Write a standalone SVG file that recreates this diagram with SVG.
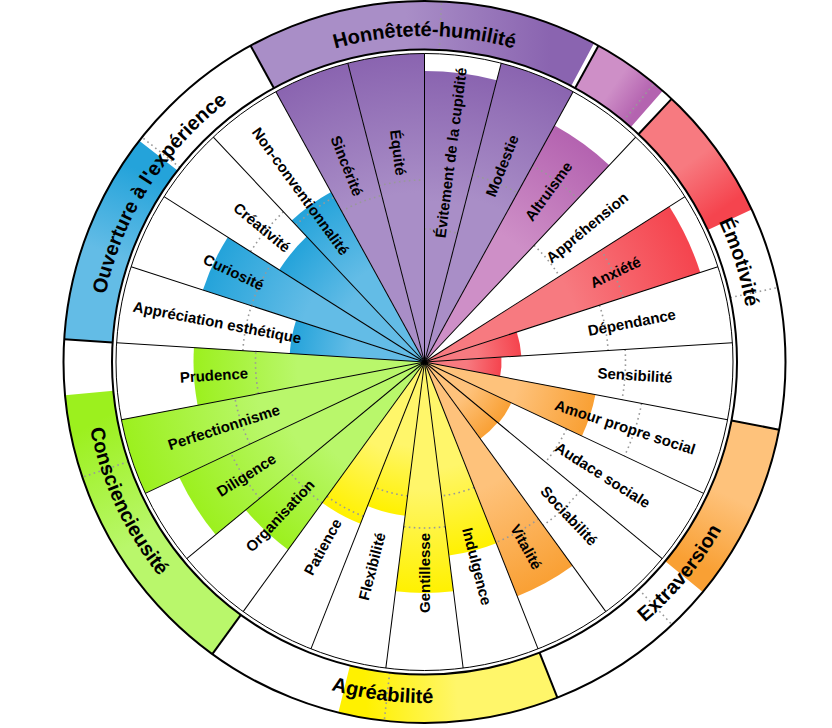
<svg xmlns="http://www.w3.org/2000/svg" xmlns:xlink="http://www.w3.org/1999/xlink" width="832" height="728" viewBox="0 0 832 728">
<style>
.fl{font-family:"Liberation Sans",Arial,Helvetica,sans-serif;font-size:15px;font-weight:bold;fill:#000;text-anchor:middle}
.bt{font-family:"Liberation Sans",Arial,Helvetica,sans-serif;font-size:20px;font-weight:bold;fill:#000;text-anchor:middle}
.dot{fill:none;stroke:#999;stroke-width:1.6;stroke-dasharray:1.6 3.4}
.thin{fill:none;stroke:#000;stroke-width:1}
.thick{fill:none;stroke:#000;stroke-width:2}
</style>
<defs>
<radialGradient id="rp" gradientUnits="userSpaceOnUse" cx="0" cy="0" r="308.5"><stop offset=".55" stop-color="#A98EC7"/><stop offset="1" stop-color="#8A64B0"/></radialGradient>
<radialGradient id="rk" gradientUnits="userSpaceOnUse" cx="0" cy="0" r="308.5"><stop offset=".55" stop-color="#CE8FC7"/><stop offset="1" stop-color="#B463B0"/></radialGradient>
<radialGradient id="rr" gradientUnits="userSpaceOnUse" cx="0" cy="0" r="308.5"><stop offset=".55" stop-color="#F77A80"/><stop offset="1" stop-color="#F5444E"/></radialGradient>
<radialGradient id="ro" gradientUnits="userSpaceOnUse" cx="0" cy="0" r="308.5"><stop offset=".55" stop-color="#FEC27B"/><stop offset="1" stop-color="#F9A034"/></radialGradient>
<radialGradient id="ry" gradientUnits="userSpaceOnUse" cx="0" cy="0" r="308.5"><stop offset=".55" stop-color="#FFF66A"/><stop offset="1" stop-color="#FFF100"/></radialGradient>
<radialGradient id="rg" gradientUnits="userSpaceOnUse" cx="0" cy="0" r="308.5"><stop offset=".55" stop-color="#B9F76B"/><stop offset="1" stop-color="#9CF01E"/></radialGradient>
<radialGradient id="rb" gradientUnits="userSpaceOnUse" cx="0" cy="0" r="308.5"><stop offset=".55" stop-color="#63BCE6"/><stop offset="1" stop-color="#24A3DA"/></radialGradient>
<radialGradient id="g0" xlink:href="#rp" r="291"/>
<radialGradient id="g2" xlink:href="#rk" r="270"/>
<radialGradient id="g4" xlink:href="#rr" r="290"/>
<radialGradient id="g5" xlink:href="#rr" r="97"/>
<radialGradient id="g6" xlink:href="#rr" r="77"/>
<radialGradient id="g7" xlink:href="#ro" r="174"/>
<radialGradient id="g8" xlink:href="#ro" r="96"/>
<radialGradient id="g9" xlink:href="#ro" r="95"/>
<radialGradient id="g10" xlink:href="#ro" r="252"/>
<radialGradient id="g11" xlink:href="#ry" r="195"/>
<radialGradient id="g12" xlink:href="#ry" r="231"/>
<radialGradient id="g13" xlink:href="#ry" r="155"/>
<radialGradient id="g14" xlink:href="#ry" r="174"/>
<radialGradient id="g15" xlink:href="#rg" r="232"/>
<radialGradient id="g16" xlink:href="#rg" r="271"/>
<radialGradient id="g18" xlink:href="#rg" r="231"/>
<radialGradient id="g19" xlink:href="#rb" r="135"/>
<radialGradient id="g20" xlink:href="#rb" r="233"/>
<radialGradient id="g21" xlink:href="#rb" r="172"/>
<radialGradient id="g22" xlink:href="#rb" r="194"/>
<linearGradient id="bH" gradientUnits="userSpaceOnUse" x1="0" y1="-337" x2="281.99" y2="-184.53"><stop offset="0" stop-color="#A98EC7"/><stop offset=".45" stop-color="#A98EC7"/><stop offset=".9" stop-color="#8A64B0"/></linearGradient>
<linearGradient id="bA" gradientUnits="userSpaceOnUse" x1="0" y1="-337" x2="72.94" y2="-329.01"><stop offset="0" stop-color="#CE8FC7"/><stop offset=".45" stop-color="#CE8FC7"/><stop offset=".9" stop-color="#B463B0"/></linearGradient>
<linearGradient id="bE" gradientUnits="userSpaceOnUse" x1="0" y1="-337" x2="125.16" y2="-312.9"><stop offset="0" stop-color="#F77A80"/><stop offset=".45" stop-color="#F77A80"/><stop offset=".9" stop-color="#F5444E"/></linearGradient>
<linearGradient id="bX" gradientUnits="userSpaceOnUse" x1="0" y1="-337" x2="162.35" y2="-295.32"><stop offset="0" stop-color="#FEC27B"/><stop offset=".45" stop-color="#FEC27B"/><stop offset=".9" stop-color="#F9A034"/></linearGradient>
<linearGradient id="bY" gradientUnits="userSpaceOnUse" x1="0" y1="-337" x2="195.22" y2="-274.71"><stop offset="0" stop-color="#FFF66A"/><stop offset=".45" stop-color="#FFF66A"/><stop offset=".9" stop-color="#FFF100"/></linearGradient>
<linearGradient id="bG" gradientUnits="userSpaceOnUse" x1="0" y1="-337" x2="253.18" y2="-222.42"><stop offset="0" stop-color="#B9F76B"/><stop offset=".45" stop-color="#B9F76B"/><stop offset=".9" stop-color="#9CF01E"/></linearGradient>
<linearGradient id="bB" gradientUnits="userSpaceOnUse" x1="0" y1="-337" x2="189.42" y2="-278.73"><stop offset="0" stop-color="#63BCE6"/><stop offset=".45" stop-color="#63BCE6"/><stop offset=".9" stop-color="#24A3DA"/></linearGradient>
<line id="fline" x1="0" y1="0" x2="0" y2="-308.5"/>
<line id="bline" x1="0" y1="-312.5" x2="0" y2="-361"/>
<path id="pH" d="M-282.32-163A326 326 0 0 1 282.32-163"/>
<path id="pO" d="M-288.9 151.04A326 326 0 0 1 13.65-325.71"/>
<path id="pE" d="M70-318.4A326 326 0 0 1 240.75 219.83"/>
<path id="pX" d="M-56.87 336.23A341 341 0 0 0 319.62-118.87"/>
<path id="pA" d="M-314.35 132.14A341 341 0 0 0 271.62 206.17"/>
<path id="pC" d="M-279.67-195.1A341 341 0 0 0-29.13 339.75"/>
</defs>
<rect width="832" height="728" fill="#fff"/>
<g transform="translate(424.5 362)">
<g id="factors">
<g id="honnetete-humilite"><path transform="rotate(-28.8)" d="M0-361A361 361 0 0 1 302.07-197.67L261.49-171.12A312.5 312.5 0 0 0 0-312.5Z" fill="url(#bH)"/><use xlink:href="#bline" class="dot" transform="rotate(2.7)"/><text class="bt"><textPath xlink:href="#pH" startOffset="50%">Honnêteté-humilité</textPath></text></g>
<g id="altruisme-band"><path transform="rotate(28.8)" d="M0-361A361 361 0 0 1 78.13-352.44L67.64-305.09A312.5 312.5 0 0 0 0-312.5Z" fill="url(#bA)"/><use xlink:href="#bline" class="dot" transform="rotate(39.5)"/></g>
<g id="emotivite"><path transform="rotate(43.2)" d="M0-361A361 361 0 0 1 134.07-335.18L116.06-290.15A312.5 312.5 0 0 0 0-312.5Z" fill="url(#bE)"/><use xlink:href="#bline" class="dot" transform="rotate(78.1)"/><text class="bt"><textPath xlink:href="#pE" startOffset="50%">Émotivité</textPath></text></g>
<g id="extraversion"><path transform="rotate(100.8)" d="M0-361A361 361 0 0 1 173.91-316.35L150.55-273.85A312.5 312.5 0 0 0 0-312.5Z" fill="url(#bX)"/><use xlink:href="#bline" class="dot" transform="rotate(136.7)"/><text class="bt"><textPath xlink:href="#pX" startOffset="50%">Extraversion</textPath></text></g>
<g id="agreabilite"><path transform="rotate(158.4)" d="M0-361A361 361 0 0 1 209.13-294.27L181.03-254.73A312.5 312.5 0 0 0 0-312.5Z" fill="url(#bY)"/><use xlink:href="#bline" class="dot" transform="rotate(186.4)"/><text class="bt"><textPath xlink:href="#pA" startOffset="50%">Agréabilité</textPath></text></g>
<g id="conscienciosite"><path transform="rotate(216)" d="M0-361A361 361 0 0 1 271.21-238.26L234.77-206.25A312.5 312.5 0 0 0 0-312.5Z" fill="url(#bG)"/><use xlink:href="#bline" class="dot" transform="rotate(251.4)"/><text class="bt"><textPath xlink:href="#pC" startOffset="50%">Consciencieusité</textPath></text></g>
<g id="ouverture"><path transform="rotate(273.6)" d="M0-361A361 361 0 0 1 202.91-298.58L175.65-258.47A312.5 312.5 0 0 0 0-312.5Z" fill="url(#bB)"/><use xlink:href="#bline" class="dot" transform="rotate(308.5)"/><text class="bt"><textPath xlink:href="#pO" startOffset="50%">Ouverture à l'expérience</textPath></text></g>
</g>
<g id="facets">
<g id="f-evitement" transform="rotate(0)"><path d="M0 0L0-291A291 291 0 0 1 72.37-281.86Z" fill="url(#g0)"/><path class="dot" d="M0-133A133 133 0 0 1 33.08-128.82"/><text class="fl" transform="rotate(7.2) translate(0 -211) rotate(-90)" dy=".35em">Évitement de la cupidité</text></g>
<g id="f-modestie" transform="rotate(14.4)"><path d="M0 0L0-308.5A308.5 308.5 0 0 1 76.72-298.81Z" fill="url(#rp)"/><path class="dot" d="M0-193A193 193 0 0 1 48-186.94"/><text class="fl" transform="rotate(7.2) translate(0 -211) rotate(-90)" dy=".35em">Modestie</text></g>
<g id="f-altruisme" transform="rotate(28.8)"><path d="M0 0L0-270A270 270 0 0 1 67.15-261.52Z" fill="url(#g2)"/><path class="dot" d="M0-224A224 224 0 0 1 55.71-216.96"/><text class="fl" transform="rotate(7.2) translate(0 -211) rotate(-90)" dy=".35em">Altruisme</text></g>
<g id="f-apprehension" transform="rotate(43.2)"><path class="dot" d="M0-160A160 160 0 0 1 39.79-154.97"/><text class="fl" transform="rotate(7.2) translate(0 -211) rotate(-90)" dy=".35em">Appréhension</text></g>
<g id="f-anxiete" transform="rotate(57.6)"><path d="M0 0L0-290A290 290 0 0 1 72.12-280.89Z" fill="url(#g4)"/><path class="dot" d="M0-209A209 209 0 0 1 51.98-202.43"/><text class="fl" transform="rotate(7.2) translate(0 -211) rotate(-90)" dy=".35em">Anxiété</text></g>
<g id="f-dependance" transform="rotate(72)"><path d="M0 0L0-97A97 97 0 0 1 24.12-93.95Z" fill="url(#g5)"/><path class="dot" d="M0-184A184 184 0 0 1 45.76-178.22"/><text class="fl" transform="rotate(7.2) translate(0 -211) rotate(-90)" dy=".35em">Dépendance</text></g>
<g id="f-sensibilite" transform="rotate(86.4)"><path d="M0 0L0-77A77 77 0 0 1 19.15-74.58Z" fill="url(#g6)"/><path class="dot" d="M0-201A201 201 0 0 1 49.99-194.68"/><text class="fl" transform="rotate(7.2) translate(0 -211) rotate(-90)" dy=".35em">Sensibilité</text></g>
<g id="f-amour-propre" transform="rotate(100.8)"><path d="M0 0L0-174A174 174 0 0 1 43.27-168.53Z" fill="url(#g7)"/><path class="dot" d="M0-221A221 221 0 0 1 54.96-214.06"/><text class="fl" transform="rotate(7.2) translate(0 -211) rotate(-90)" dy=".35em">Amour propre social</text></g>
<g id="f-audace" transform="rotate(115.2)"><path d="M0 0L0-96A96 96 0 0 1 23.87-92.98Z" fill="url(#g8)"/><path class="dot" d="M0-157A157 157 0 0 1 39.04-152.07"/><text class="fl" transform="rotate(7.2) translate(0 -211) rotate(-90)" dy=".35em">Audace sociale</text></g>
<g id="f-sociabilite" transform="rotate(129.6)"><path d="M0 0L0-95A95 95 0 0 1 23.63-92.02Z" fill="url(#g9)"/><path class="dot" d="M0-202A202 202 0 0 1 50.24-195.65"/><text class="fl" transform="rotate(7.2) translate(0 -211) rotate(-90)" dy=".35em">Sociabilité</text></g>
<g id="f-vitalite" transform="rotate(144)"><path d="M0 0L0-252A252 252 0 0 1 62.67-244.08Z" fill="url(#g10)"/><path class="dot" d="M0-194A194 194 0 0 1 48.25-187.9"/><text class="fl" transform="rotate(7.2) translate(0 -211) rotate(-90)" dy=".35em">Vitalité</text></g>
<g id="f-indulgence" transform="rotate(158.4)"><path d="M0 0L0-195A195 195 0 0 1 48.49-188.87Z" fill="url(#g11)"/><path class="dot" d="M0-135A135 135 0 0 1 33.57-130.76"/><text class="fl" transform="rotate(7.2) translate(0 -211) rotate(-90)" dy=".35em">Indulgence</text></g>
<g id="f-gentillesse" transform="rotate(172.8)"><path d="M0 0L0-231A231 231 0 0 1 57.45-223.74Z" fill="url(#g12)"/><path class="dot" d="M0-166A166 166 0 0 1 41.28-160.78"/><text class="fl" transform="rotate(7.2) translate(0 -211) rotate(90)" dy=".35em">Gentillesse</text></g>
<g id="f-flexibilite" transform="rotate(187.2)"><path d="M0 0L0-155A155 155 0 0 1 38.55-150.13Z" fill="url(#g13)"/><path class="dot" d="M0-135A135 135 0 0 1 33.57-130.76"/><text class="fl" transform="rotate(7.2) translate(0 -211) rotate(90)" dy=".35em">Flexibilité</text></g>
<g id="f-patience" transform="rotate(201.6)"><path d="M0 0L0-174A174 174 0 0 1 43.27-168.53Z" fill="url(#g14)"/><path class="dot" d="M0-166A166 166 0 0 1 41.28-160.78"/><text class="fl" transform="rotate(7.2) translate(0 -211) rotate(90)" dy=".35em">Patience</text></g>
<g id="f-organisation" transform="rotate(216)"><path d="M0 0L0-232A232 232 0 0 1 57.7-224.71Z" fill="url(#g15)"/><path class="dot" d="M0-174A174 174 0 0 1 43.27-168.53"/><text class="fl" transform="rotate(7.2) translate(0 -211) rotate(90)" dy=".35em">Organisation</text></g>
<g id="f-diligence" transform="rotate(230.4)"><path d="M0 0L0-271A271 271 0 0 1 67.39-262.49Z" fill="url(#g16)"/><path class="dot" d="M0-214A214 214 0 0 1 53.22-207.28"/><text class="fl" transform="rotate(7.2) translate(0 -211) rotate(90)" dy=".35em">Diligence</text></g>
<g id="f-perfectionnisme" transform="rotate(244.8)"><path d="M0 0L0-308.5A308.5 308.5 0 0 1 76.72-298.81Z" fill="url(#rg)"/><path class="dot" d="M0-193A193 193 0 0 1 48-186.94"/><text class="fl" transform="rotate(7.2) translate(0 -211) rotate(90)" dy=".35em">Perfectionnisme</text></g>
<g id="f-prudence" transform="rotate(259.2)"><path d="M0 0L0-231A231 231 0 0 1 57.45-223.74Z" fill="url(#g18)"/><path class="dot" d="M0-169A169 169 0 0 1 42.03-163.69"/><text class="fl" transform="rotate(7.2) translate(0 -211) rotate(90)" dy=".35em">Prudence</text></g>
<g id="f-appreciation" transform="rotate(273.6)"><path d="M0 0L0-135A135 135 0 0 1 33.57-130.76Z" fill="url(#g19)"/><path class="dot" d="M0-182A182 182 0 0 1 45.26-176.28"/><text class="fl" transform="rotate(7.2) translate(0 -211) rotate(90)" dy=".35em">Appréciation esthétique</text></g>
<g id="f-curiosite" transform="rotate(288)"><path d="M0 0L0-233A233 233 0 0 1 57.94-225.68Z" fill="url(#g20)"/><path class="dot" d="M0-182A182 182 0 0 1 45.26-176.28"/><text class="fl" transform="rotate(7.2) translate(0 -211) rotate(90)" dy=".35em">Curiosité</text></g>
<g id="f-creativite" transform="rotate(302.4)"><path d="M0 0L0-172A172 172 0 0 1 42.77-166.6Z" fill="url(#g21)"/><path class="dot" d="M0-206A206 206 0 0 1 51.23-199.53"/><text class="fl" transform="rotate(7.2) translate(0 -211) rotate(90)" dy=".35em">Créativité</text></g>
<g id="f-non-conventionnalite" transform="rotate(316.8)"><path d="M0 0L0-194A194 194 0 0 1 48.25-187.9Z" fill="url(#g22)"/><path class="dot" d="M0-188A188 188 0 0 1 46.75-182.09"/><text class="fl" transform="rotate(7.2) translate(0 -211) rotate(90)" dy=".35em">Non-conventionnalité</text></g>
<g id="f-sincerite" transform="rotate(331.2)"><path d="M0 0L0-308.5A308.5 308.5 0 0 1 76.72-298.81Z" fill="url(#rp)"/><path class="dot" d="M0-172A172 172 0 0 1 42.78-166.6"/><text class="fl" transform="rotate(7.2) translate(0 -211) rotate(90)" dy=".35em">Sincérité</text></g>
<g id="f-equite" transform="rotate(345.6)"><path d="M0 0L0-308.5A308.5 308.5 0 0 1 76.72-298.81Z" fill="url(#rp)"/><path class="dot" d="M0-182A182 182 0 0 1 45.26-176.28"/><text class="fl" transform="rotate(7.2) translate(0 -211) rotate(90)" dy=".35em">Équité</text></g>
</g>
<g id="connectors">
<g class="thin">
<use xlink:href="#fline" transform="rotate(0)"/><use xlink:href="#fline" transform="rotate(14.4)"/><use xlink:href="#fline" transform="rotate(28.8)"/><use xlink:href="#fline" transform="rotate(43.2)"/><use xlink:href="#fline" transform="rotate(57.6)"/><use xlink:href="#fline" transform="rotate(72)"/><use xlink:href="#fline" transform="rotate(86.4)"/><use xlink:href="#fline" transform="rotate(100.8)"/><use xlink:href="#fline" transform="rotate(115.2)"/><use xlink:href="#fline" transform="rotate(129.6)"/><use xlink:href="#fline" transform="rotate(144)"/><use xlink:href="#fline" transform="rotate(158.4)"/><use xlink:href="#fline" transform="rotate(172.8)"/><use xlink:href="#fline" transform="rotate(187.2)"/><use xlink:href="#fline" transform="rotate(201.6)"/><use xlink:href="#fline" transform="rotate(216)"/><use xlink:href="#fline" transform="rotate(230.4)"/><use xlink:href="#fline" transform="rotate(244.8)"/><use xlink:href="#fline" transform="rotate(259.2)"/><use xlink:href="#fline" transform="rotate(273.6)"/><use xlink:href="#fline" transform="rotate(288)"/><use xlink:href="#fline" transform="rotate(302.4)"/><use xlink:href="#fline" transform="rotate(316.8)"/><use xlink:href="#fline" transform="rotate(331.2)"/><use xlink:href="#fline" transform="rotate(345.6)"/>
<circle r="308.5"/>
</g>
<g class="thick">
<circle r="312.5"/>
<circle r="361"/>
<use xlink:href="#bline" transform="rotate(28.8)"/><use xlink:href="#bline" transform="rotate(43.2)"/><use xlink:href="#bline" transform="rotate(100.8)"/><use xlink:href="#bline" transform="rotate(158.4)"/><use xlink:href="#bline" transform="rotate(216)"/><use xlink:href="#bline" transform="rotate(273.6)"/><use xlink:href="#bline" transform="rotate(331.2)"/>
</g>
</g>
</g>
</svg>
